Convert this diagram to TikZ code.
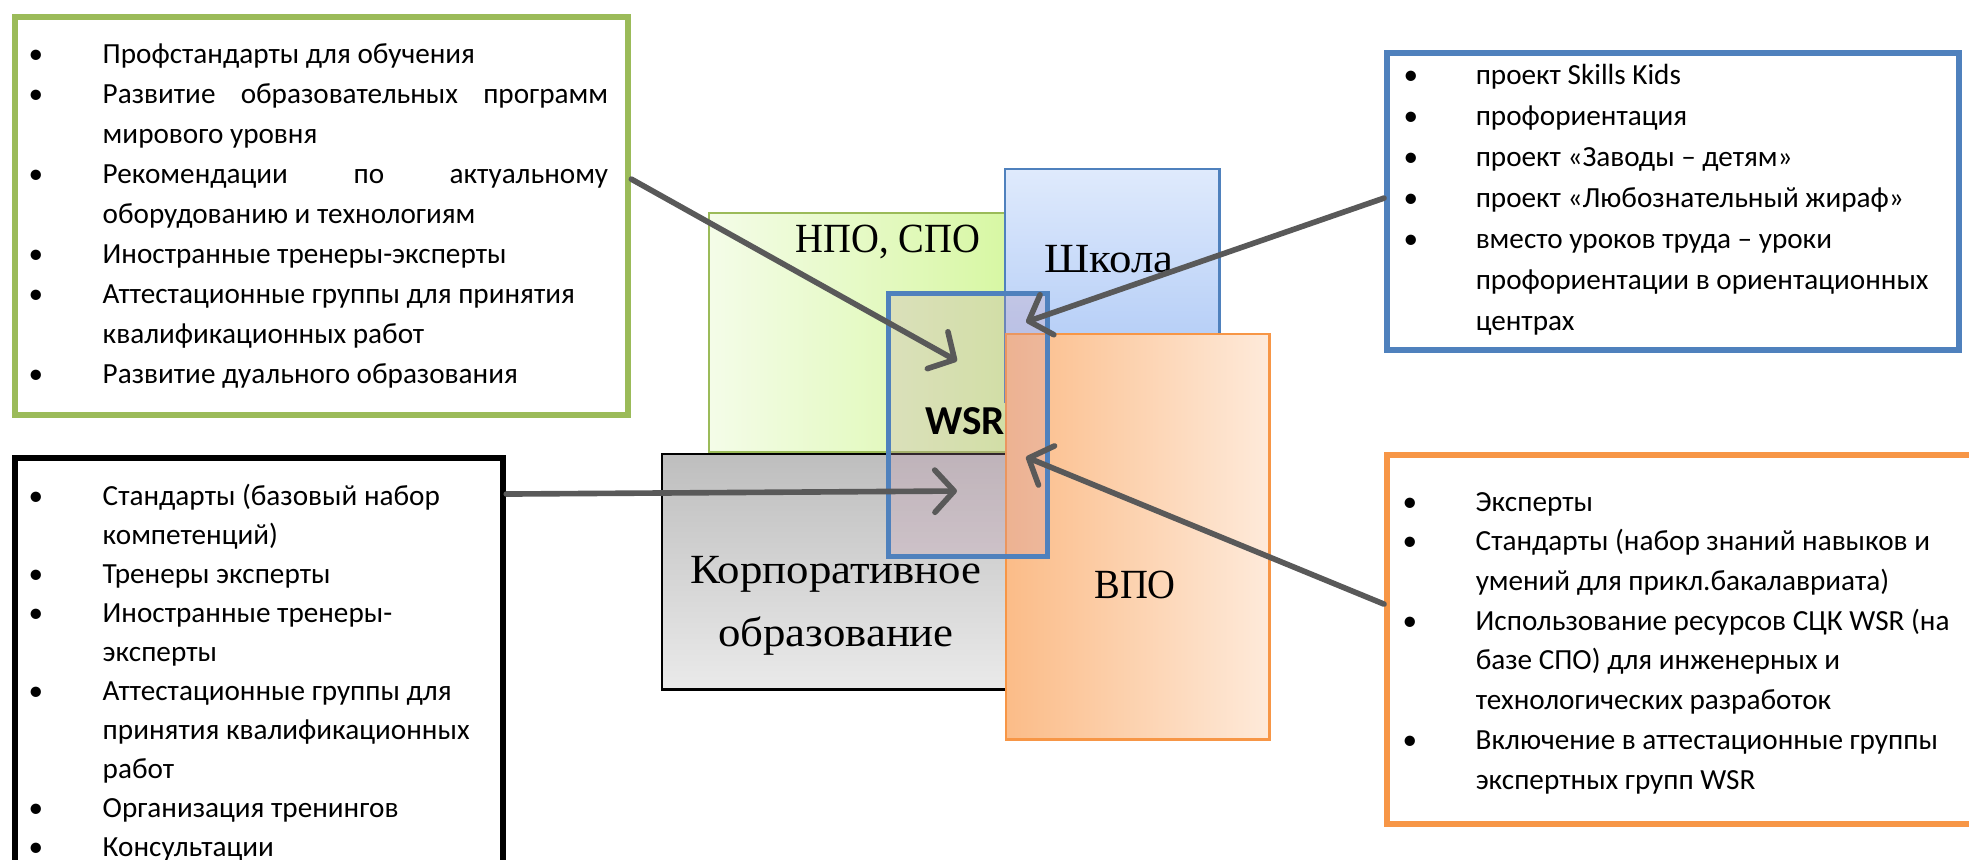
\documentclass[tikz,border=0pt]{standalone}
\usepackage{fontspec}
\setmainfont{Carlito}
\newfontfamily\serifcaps[FakeStretch=0.93]{Liberation Serif}
\newfontfamily\serifwide[FakeStretch=1.08]{Liberation Serif}
\usetikzlibrary{arrows.meta}

\definecolor{lgreen}{RGB}{155,187,89}
\definecolor{lblue}{RGB}{79,129,189}
\definecolor{lorange}{RGB}{247,150,70}
\definecolor{arrowgray}{RGB}{89,89,89}
\definecolor{wsrfill}{RGB}{196,150,176}
\definecolor{npoL}{RGB}{244,252,232}
\definecolor{npoR}{RGB}{214,247,160}
\definecolor{shkT}{RGB}{223,234,252}
\definecolor{shkB}{RGB}{168,197,245}
\definecolor{korT}{RGB}{190,190,190}
\definecolor{korB}{RGB}{234,234,234}
\definecolor{vpoL}{RGB}{251,188,136}
\definecolor{vpoR}{RGB}{254,234,218}

\newlength\bw
\newlength\tw
\newcommand\bitem[1]{\noindent\makebox[\bw][l]{\textbullet}#1\par}
\newcommand\bcont[1]{\noindent\hspace*{\bw}#1\par}
\newcommand\bjust[1]{\noindent\makebox[\bw][l]{\textbullet}\makebox[\tw][s]{#1}\par}
\newcommand\listtext[3]{\parbox[t]{8cm}{\setlength\bw{#1}\fontsize{8.3pt}{#2}\selectfont #3}}

\tikzset{
  listbox/.style={draw=#1, line width=1.7pt, fill=white, inner sep=0pt, anchor=north west},
  region/.style={draw=#1, line width=0.7pt, inner sep=0pt, anchor=north west},
  listtxt/.style={inner sep=0pt, anchor=base west},
  lblcaps/.style={inner sep=0pt, anchor=base, font=\serifcaps\fontsize{11.8pt}{14pt}\selectfont},
  lblwide/.style={inner sep=0pt, anchor=base, font=\serifwide\fontsize{11.8pt}{14pt}\selectfont},
  conn/.style={draw=arrowgray, line width=1.6pt, line cap=round, line join=round,
    -{Straight Barb[length=5.5pt,width=12pt,round]}},
}

\begin{document}
\begin{tikzpicture}[x=0.01cm,y=-0.01cm]
\useasboundingbox (0,0) rectangle (1969,859);
\clip (0,0) rectangle (1969,859);

% list boxes
\node[listbox=lgreen, minimum width=6.13cm, minimum height=3.98cm] (gbox) at (12,14) {};
\node[listbox=black, minimum width=4.88cm, minimum height=4.6cm] (kbox) at (12,455) {};
\node[listbox=lblue, minimum width=5.72cm, minimum height=2.97cm] (bbox) at (1384,50) {};
\node[listbox=lorange, minimum width=6.2cm, minimum height=3.69cm] (obox) at (1384,452) {};

% list texts
\setlength\tw{5.05cm}
\node[listtxt] (gtxt) at (28,63) {\listtext{0.74cm}{11.38pt}{%
\bitem{Профстандарты для обучения}
\bjust{Развитие образовательных программ}
\bcont{мирового уровня}
\bjust{Рекомендации по актуальному}
\bcont{оборудованию и технологиям}
\bitem{Иностранные тренеры-эксперты}
\bitem{Аттестационные группы для принятия}
\bcont{квалификационных работ}
\bitem{Развитие дуального образования}}};

\node[listtxt] (ktxt) at (28,505) {\listtext{0.74cm}{11.1pt}{%
\bitem{Стандарты (базовый набор}
\bcont{компетенций)}
\bitem{Тренеры эксперты}
\bitem{Иностранные тренеры-}
\bcont{эксперты}
\bitem{Аттестационные группы для}
\bcont{принятия квалификационных}
\bcont{работ}
\bitem{Организация тренингов}
\bitem{Консультации}}};

\node[listtxt] (btxt) at (1403,84) {\listtext{0.72cm}{11.66pt}{%
\bitem{проект Skills Kids}
\bitem{профориентация}
\bitem{проект «Заводы – детям»}
\bitem{проект «Любознательный жираф»}
\bitem{вместо уроков труда – уроки}
\bcont{профориентации в ориентационных}
\bcont{центрах}}};

\node[listtxt] (otxt) at (1402,511) {\listtext{0.73cm}{11.3pt}{%
\bitem{Эксперты}
\bitem{Стандарты (набор знаний навыков и}
\bcont{умений для прикл.бакалавриата)}
\bitem{Использование ресурсов СЦК WSR (на}
\bcont{базе СПО) для инженерных и}
\bcont{технологических разработок}
\bitem{Включение в аттестационные группы}
\bcont{экспертных групп WSR}}};

% central regions
\node[region=lgreen, left color=npoL, right color=npoR, minimum width=3.12cm, minimum height=2.39cm] (npo) at (708,212) {};
\node[region=lblue, top color=shkT, bottom color=shkB, minimum width=2.14cm, minimum height=2.32cm] (shk) at (1004,168) {};
\node[region=black, top color=korT, bottom color=korB, minimum width=3.59cm, minimum height=2.35cm] (kor) at (661,453) {};
\node[region=lorange, left color=vpoL, right color=vpoR, minimum width=2.63cm, minimum height=4.05cm] (vpo) at (1005,333) {};
\node[draw=lblue, line width=1.5pt, fill=wsrfill, fill opacity=0.25, draw opacity=1, inner sep=0pt, anchor=north west, minimum width=1.59cm, minimum height=2.63cm] (wsr) at (886,291) {};

% labels
\node[lblcaps] (lnpo) at (888,252) {НПО, СПО};
\node[lblwide] (lshk) at (1109,272) {Школа};
\node[inner sep=0pt, anchor=base, font=\bfseries\fontsize{11.7pt}{14pt}\selectfont] (lwsr) at (965,434) {WSR};
\node[lblwide] (lkor1) at (836,583) {Корпоративное};
\node[lblwide] (lkor2) at (836,646) {образование};
\node[lblcaps] (lvpo) at (1135,598) {ВПО};

% arrow targets
\coordinate (t1) at (957,361);
\coordinate (t2) at (1026,322);
\coordinate (t3) at (957,491);
\coordinate (t4) at (1026,457);

\draw[conn] ([yshift=-1.65cm]gbox.north east) -- (t1);
\draw[conn] ([yshift=-1.48cm]bbox.north west) -- (t2);
\draw[conn] ([yshift=-0.39cm]kbox.north east) -- (t3);
\draw[conn] ([yshift=-1.52cm]obox.north west) -- (t4);
\end{tikzpicture}
\end{document}
